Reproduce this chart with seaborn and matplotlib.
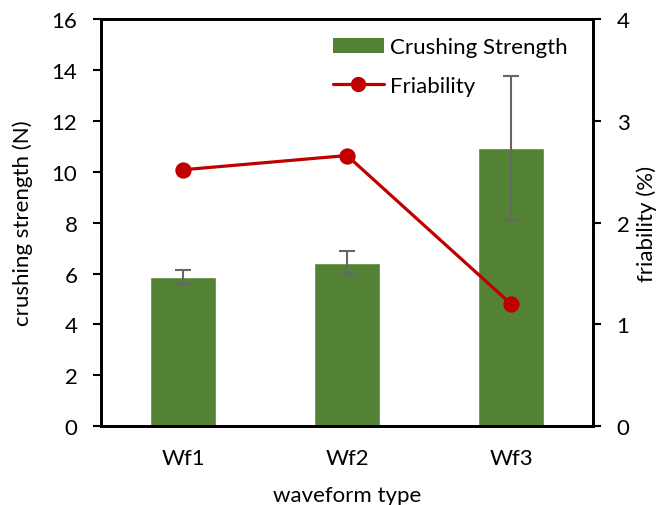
import numpy as np
import pandas as pd
import matplotlib
matplotlib.use("Agg")
import matplotlib.pyplot as plt
from matplotlib.patches import Patch
from matplotlib.lines import Line2D
import seaborn as sns

waveforms = ["Wf1", "Wf2", "Wf3"]
crushing = [5.87, 6.42, 10.93]
crushing_err = [0.27, 0.45, 2.84]
friability = [2.52, 2.66, 1.20]

GREEN = "#548235"
RED = "#C00000"
GREY = "#666666"
FS = 16

sns.set_style("white")
plt.rcParams['font.family'] = ['Lato', 'DejaVu Sans']
plt.rcParams['text.color'] = "black"
plt.rcParams['axes.labelcolor'] = "black"

df = pd.DataFrame({"wf": waveforms, "cs": crushing, "err": crushing_err, "fri": friability})

fig = plt.figure(figsize=(6.62, 5.06), dpi=100)
ax = fig.add_axes([0.1526, 0.156, 0.7432, 0.804])

sns.barplot(data=df, x="wf", y="cs", color=GREEN, saturation=1, width=0.4,
            errorbar=None, ax=ax, zorder=2)
ax.errorbar(np.arange(len(waveforms)), df["cs"], yerr=df["err"], fmt="none",
            ecolor=GREY, elinewidth=1.5, capsize=5.5, capthick=1.5, zorder=3)

ax2 = ax.twinx()
sns.pointplot(data=df, x="wf", y="fri", color=RED, markers="o", markersize=10,
              linewidth=2.3, errorbar=None, ax=ax2)

ax.set_xlim(-0.5, 2.5)
ax.set_ylim(0, 16)
ax.set_yticks(range(0, 17, 2))
ax2.set_ylim(0, 4)
ax2.set_yticks(range(0, 5))

for a in (ax, ax2):
    for s in a.spines.values():
        s.set_color("black")
        s.set_linewidth(2)
    a.tick_params(axis="y", direction="out", length=6, width=1.5, labelsize=FS, pad=11,
                  colors="black")
ax.tick_params(axis="x", length=0, labelsize=FS, pad=16, colors="black")
ax.tick_params(axis="y", left=True)
ax2.tick_params(axis="y", right=True)

ax.set_xlabel("waveform type", fontsize=FS, labelpad=12)
ax.set_ylabel("crushing strength (N)", fontsize=FS, labelpad=13)
ax2.set_ylabel("friability (%)", fontsize=FS, labelpad=5)

handles = [Patch(facecolor=GREEN, edgecolor="none"),
           Line2D([0], [0], color=RED, lw=2.3, marker="o", markersize=10)]
ax2.legend(handles, ["Crushing Strength", "Friability"], loc="upper right",
           bbox_to_anchor=(0.99, 1.005), frameon=False, fontsize=FS,
           labelspacing=0.85, handlelength=2.3, handletextpad=0.3)

fig.savefig("out.png", dpi=100)
plt.close(fig)
